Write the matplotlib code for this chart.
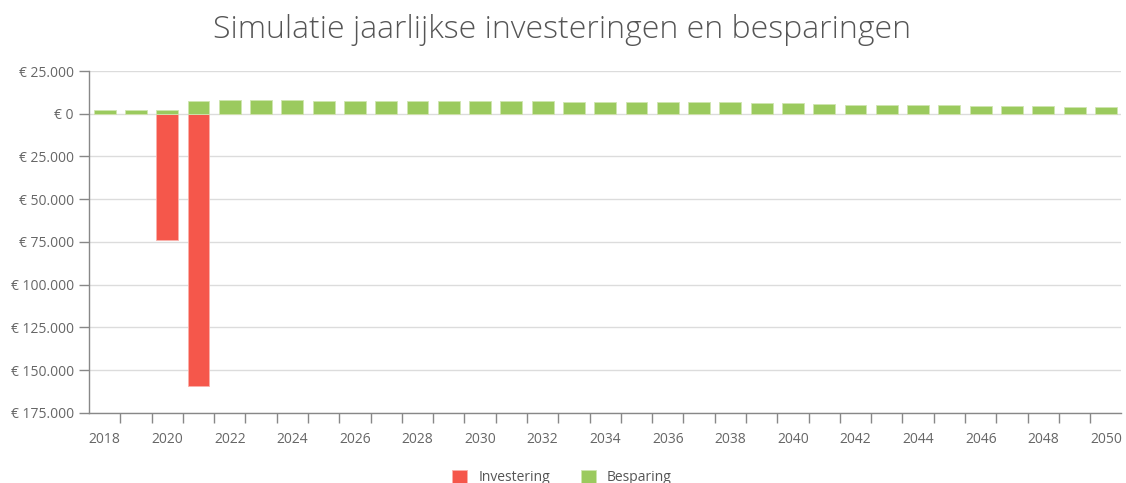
import numpy as np
import matplotlib.pyplot as plt
from matplotlib.ticker import FuncFormatter, FixedLocator

years = list(range(2018, 2051))
investering = [0, 0, -74000, -159000] + [0] * 29
besparing = [2100, 2100, 2100, 7200, 7900, 7900, 7900, 7400, 7400, 7400,
             7400, 7400, 7400, 7400, 7400, 6800, 6800, 6800, 6800, 6800,
             6800, 6000, 6000, 5900, 5300, 5300, 5300, 5300, 4500, 4500,
             4500, 3700, 3700]

red = '#f5574b'
green = '#9bca5e'
grey_text = '#666666'

plt.rcParams['font.family'] = ['Open Sans', 'DejaVu Sans']

fig = plt.figure(figsize=(11.26, 4.83), dpi=100)
ax = fig.add_axes([0.079, 0.145, 0.917, 0.708])

x = np.arange(len(years))
ax.bar(x, investering, width=0.7, color=red, edgecolor='#fbb0aa', linewidth=0.6,
       label='Investering', zorder=3)
ax.bar(x, besparing, width=0.7, color=green, edgecolor='#cfe6b0', linewidth=0.6,
       label='Besparing', zorder=3)

ax.set_xlim(-0.5, len(years) - 0.5)
ax.set_ylim(-175000, 25000)
ax.set_yticks(np.arange(-175000, 25001, 25000))

def euro(v, pos):
    return '€ ' + f'{abs(int(v)):,}'.replace(',', '.')

ax.yaxis.set_major_formatter(FuncFormatter(euro))
ax.grid(axis='y', color='#dcdcdc', linewidth=1, zorder=0)

ax.set_xticks(x[::2])
ax.set_xticklabels([str(y) for y in years[::2]])
ax.xaxis.set_minor_locator(FixedLocator(x[:-1] + 0.5))
ax.tick_params(axis='x', which='major', length=0, pad=14, labelsize=10, labelcolor=grey_text)
ax.tick_params(axis='x', which='minor', length=7, color='#888888', width=1)
ax.tick_params(axis='y', length=7, color='#888888', width=1, labelsize=10,
               labelcolor=grey_text, pad=4)

for s in ['top', 'right']:
    ax.spines[s].set_visible(False)
for s in ['left', 'bottom']:
    ax.spines[s].set_color('#888888')
    ax.spines[s].set_linewidth(1)

fig.text(0.499, 0.938, 'Simulatie jaarlijkse investeringen en besparingen',
         ha='center', va='center', fontsize=23, fontweight='light', color='#555555')

fig.legend(loc='center', bbox_to_anchor=(0.499, 0.012), ncol=2, frameon=False,
           fontsize=10, handlelength=1.1, handleheight=1.1, columnspacing=2.2,
           labelcolor='#555555')

plt.savefig('out.png', dpi=100)
